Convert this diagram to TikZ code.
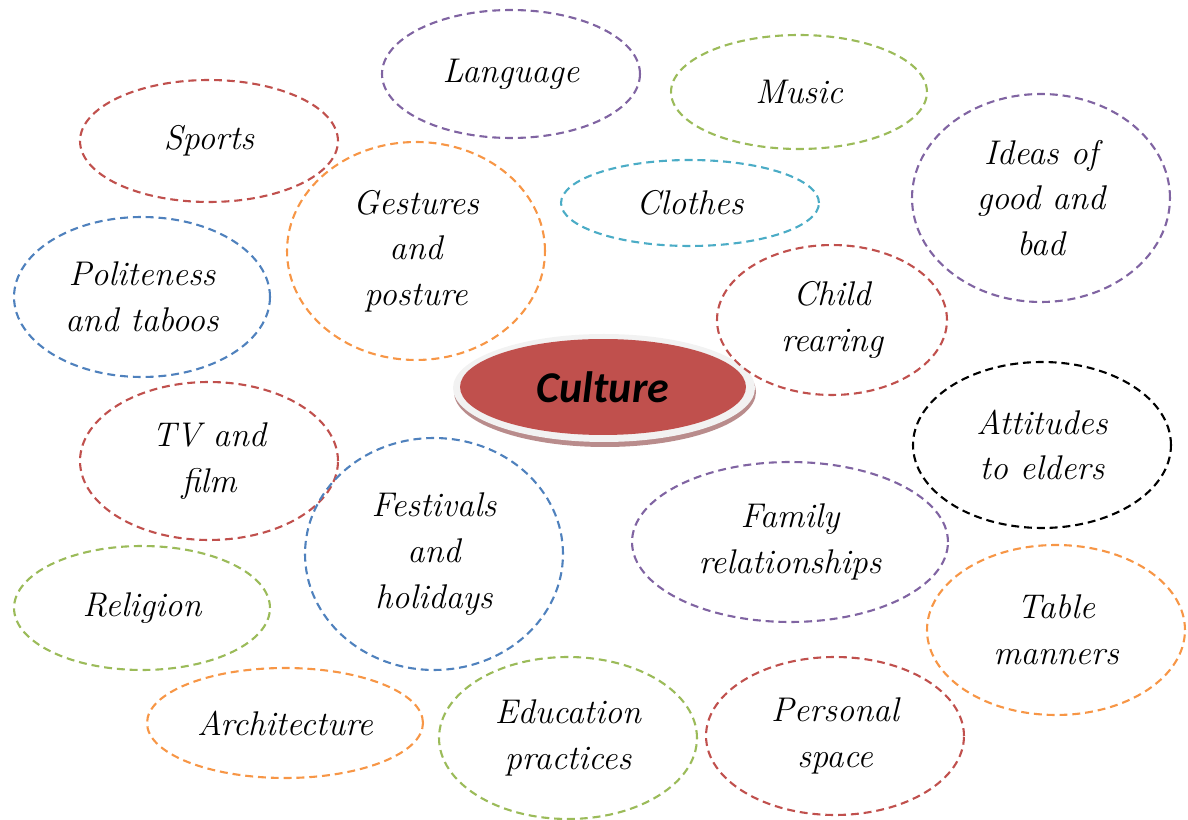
\documentclass[tikz,border=0pt]{standalone}
\usepackage{fontspec}
\usepackage{tikz}
\usetikzlibrary{shapes.geometric}
\newfontfamily\culturefont{Carlito}

\definecolor{cred}{HTML}{C0504D}
\definecolor{cpurple}{HTML}{8064A2}
\definecolor{cgreen}{HTML}{9BBB59}
\definecolor{cblue}{HTML}{4F81BD}
\definecolor{corange}{HTML}{F79646}
\definecolor{ccyan}{HTML}{4BACC6}

\tikzset{
  bubble/.style={ellipse, draw, line width=1.2pt, dash pattern=on 4.5pt off 2.8pt,
    inner sep=0pt, align=center,
    font=\fontsize{19.5}{26}\selectfont\itshape},
}

\begin{document}
\begin{tikzpicture}[x=0.02cm, y=-0.02cm]
\useasboundingbox (0,0) rectangle (1188,820);

% the centre
\fill[color={rgb,255:red,185;green,140;blue,140}] (605,392) ellipse [x radius=151, y radius=55];
\fill[color={rgb,255:red,242;green,242;blue,242}] (604,388) ellipse [x radius=151, y radius=54];
\node[ellipse, fill=cred, minimum width=5.72cm, minimum height=1.92cm, inner sep=0pt,
  font=\culturefont\fontsize{25}{28}\selectfont\bfseries\itshape] (culture) at (603,387) {Culture};

% the topics
\node[bubble, draw=cred, minimum width=5.16cm, minimum height=2.44cm] (sports) at (209,141) {Sports};
\node[bubble, draw=cpurple, minimum width=5.16cm, minimum height=2.56cm] (language) at (511,74) {Language};
\node[bubble, draw=cgreen, minimum width=5.12cm, minimum height=2.28cm] (music) at (799,92) {Music};
\node[bubble, draw=cpurple, minimum width=5.16cm, minimum height=4.16cm] (ideas) at (1041,198) {Ideas of\\good and\\bad};
\node[bubble, draw=ccyan, minimum width=5.16cm, minimum height=1.72cm] (clothes) at (690,203) {Clothes};
\node[bubble, draw=corange, minimum width=5.16cm, minimum height=4.36cm] (gestures) at (416,251) {Gestures\\and\\posture};
\node[bubble, draw=cblue, minimum width=5.12cm, minimum height=3.2cm] (politeness) at (142,297) {Politeness\\and taboos};
\node[bubble, draw=cred, minimum width=4.6cm, minimum height=3.0cm] (child) at (832,320) {Child\\rearing};
\node[bubble, draw=black, minimum width=5.16cm, minimum height=3.32cm] (elders) at (1042,445) {Attitudes\\to elders};
\node[bubble, draw=cred, minimum width=5.16cm, minimum height=3.16cm] (tv) at (209,461) {TV and\\film};
\node[bubble, draw=cblue, minimum width=5.16cm, minimum height=4.64cm] (festivals) at (434,554) {Festivals\\and\\holidays};
\node[bubble, draw=cpurple, minimum width=6.32cm, minimum height=3.2cm] (family) at (790,542) {Family\\relationships};
\node[bubble, draw=cgreen, minimum width=5.12cm, minimum height=2.48cm] (religion) at (142,608) {Religion};
\node[bubble, draw=corange, minimum width=5.16cm, minimum height=3.4cm] (table) at (1056,630) {Table\\manners};
\node[bubble, draw=corange, minimum width=5.52cm, minimum height=2.2cm] (architecture) at (285,723) {Architecture};
\node[bubble, draw=cgreen, minimum width=5.16cm, minimum height=3.24cm] (education) at (568,738) {Education\\practices};
\node[bubble, draw=cred, minimum width=5.16cm, minimum height=3.16cm] (personal) at (835,736) {Personal\\space};
\end{tikzpicture}
\end{document}
